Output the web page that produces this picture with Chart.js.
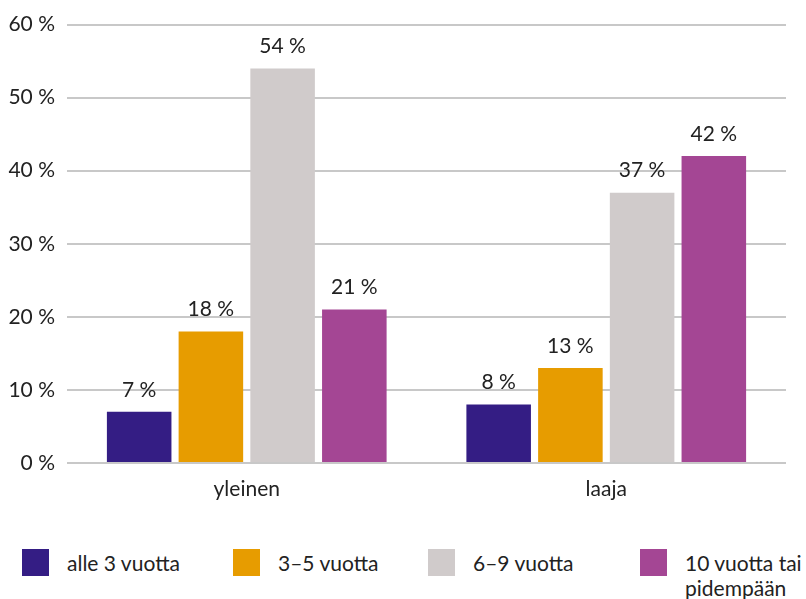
<!DOCTYPE html>
<html>
<head>
<meta charset="utf-8">
<script src="https://cdn.jsdelivr.net/npm/chart.js@4.4.1/dist/chart.umd.min.js"></script>
<style>
  html, body { margin: 0; padding: 0; background: #fff; }
  #wrap { position: relative; width: 806px; height: 599px; }
  #c { position: absolute; left: 0; top: 0; }
  #legend { position: absolute; left: 0; top: 549px; width: 806px; height: 50px; font-family: Lato, sans-serif; font-size: 21px; color: #222; }
  .item { position: absolute; top: 0; }
  .sw { position: absolute; left: 0; top: 0; width: 27px; height: 27px; }
  .lbl { position: absolute; left: 45px; top: 1px; line-height: 25px; white-space: pre; }
</style>
</head>
<body>
<div id="wrap">
  <canvas id="c" width="806" height="520"></canvas>
  <div id="legend"></div>
</div>
<script>
const categories = ['yleinen', 'laaja'];
const seriesNames = ['alle 3 vuotta', '3–5 vuotta', '6–9 vuotta', '10 vuotta tai\npidempään'];
const alle3 = [7, 8];
const v3to5 = [18, 13];
const v6to9 = [54, 37];
const v10plus = [21, 42];
const yTicks = [0, 10, 20, 30, 40, 50, 60];
const colors = ['#341d84', '#e79c00', '#d0cbcb', '#a44694'];
const legendLefts = [22, 233, 428, 640];

const seriesValues = [alle3, v3to5, v6to9, v10plus];

const labelPlugin = {
  id: 'valueLabels',
  afterDatasetsDraw(chart) {
    const ctx = chart.ctx;
    ctx.save();
    ctx.font = '21px Lato';
    ctx.fillStyle = '#222';
    ctx.textAlign = 'center';
    ctx.textBaseline = 'middle';
    chart.data.datasets.forEach((ds, i) => {
      const meta = chart.getDatasetMeta(i);
      meta.data.forEach((bar, j) => {
        ctx.fillText(ds.data[j] + ' %', bar.x, bar.y - 22);
      });
    });
    ctx.restore();
  }
};

new Chart(document.getElementById('c'), {
  type: 'bar',
  data: {
    labels: categories,
    datasets: seriesValues.map((vals, i) => ({
      label: seriesNames[i],
      data: vals,
      backgroundColor: colors[i],
      borderColor: colors[i],
      borderWidth: 0,
      barPercentage: 0.9,
      categoryPercentage: 0.798
    }))
  },
  options: {
    responsive: false,
    animation: false,
    devicePixelRatio: 1,
    layout: { padding: { left: 0, right: 20, top: 12, bottom: 0 } },
    plugins: { legend: { display: false }, tooltip: { enabled: false } },
    scales: {
      x: {
        grid: { display: false, drawTicks: false },
        border: { display: false },
        ticks: { color: '#222', font: { family: 'Lato', size: 21 }, padding: 14 },
        afterFit(axis) { axis.height = 57; }
      },
      y: {
        min: 0, max: 60,
        afterBuildTicks(axis) { axis.ticks = yTicks.map(v => ({ value: v })); },
        grid: { color: '#c8c8c8', lineWidth: 2, drawTicks: false },
        border: { display: false },
        ticks: { color: '#222', font: { family: 'Lato', size: 21 }, padding: 12, callback: v => v + ' %' },
        afterFit(axis) { axis.width = 67; }
      }
    }
  },
  plugins: [labelPlugin]
});

const legend = document.getElementById('legend');
seriesNames.forEach((name, i) => {
  const item = document.createElement('div');
  item.className = 'item';
  item.style.left = legendLefts[i] + 'px';
  const sw = document.createElement('div');
  sw.className = 'sw';
  sw.style.background = colors[i];
  const lbl = document.createElement('div');
  lbl.className = 'lbl';
  lbl.textContent = name;
  item.appendChild(sw);
  item.appendChild(lbl);
  legend.appendChild(item);
});
</script>
</body>
</html>
